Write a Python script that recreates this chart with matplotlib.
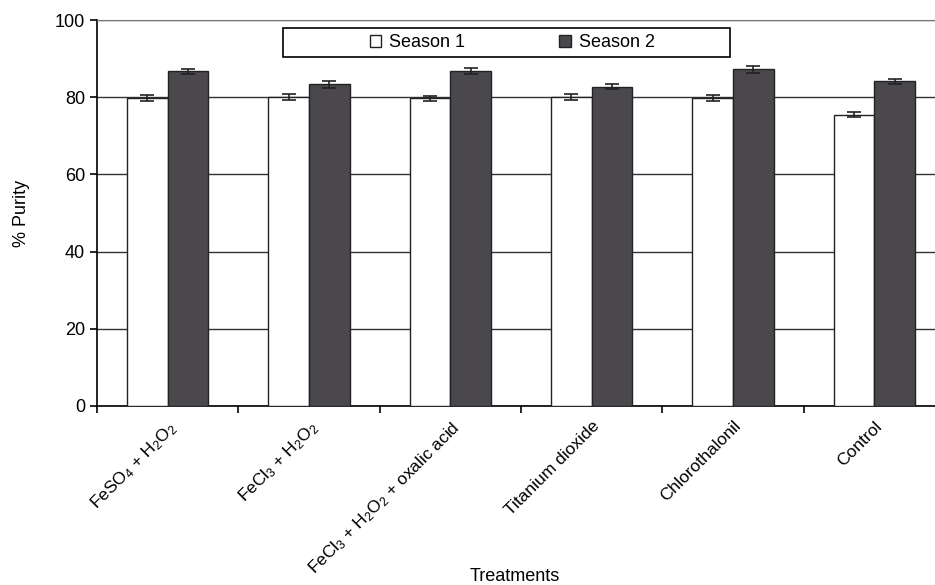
import numpy as np
import matplotlib
matplotlib.use('Agg')
from matplotlib import pyplot as plt
from matplotlib.patches import Rectangle

plt.rcParams['font.family'] = ['Liberation Sans', 'DejaVu Sans']
plt.rcParams['mathtext.fontset'] = 'custom'
plt.rcParams['mathtext.rm'] = 'Liberation Sans'
plt.rcParams['mathtext.it'] = 'Liberation Sans'
plt.rcParams['mathtext.default'] = 'rm'

# data
treatments = [r'FeSO$_4$ + H$_2$O$_2$', r'FeCl$_3$ + H$_2$O$_2$',
              r'FeCl$_3$ + H$_2$O$_2$ + oxalic acid', 'Titanium dioxide',
              'Chlorothalonil', 'Control']
season1 = [79.8, 80.0, 79.7, 80.1, 79.8, 75.5]
season2 = [86.7, 83.4, 86.8, 82.7, 87.2, 84.1]
err1 = [0.8, 0.8, 0.7, 0.7, 0.7, 0.7]
err2 = [0.6, 0.9, 0.7, 0.7, 0.9, 0.6]
yticks = [0, 20, 40, 60, 80, 100]

fig = plt.figure(figsize=(9.35, 5.85), dpi=100)
ax = fig.add_axes([0.1037, 0.306, 0.9070, 0.6598])

x = np.arange(len(treatments))
w = 0.287
dark = '#4b484d'
ax.bar(x - w / 2, season1, w, color='white', edgecolor='#222222', linewidth=1.0,
       label='Season 1', zorder=3)
ax.bar(x + w / 2, season2, w, color=dark, edgecolor='#222222', linewidth=1.0,
       label='Season 2', zorder=3)
ax.errorbar(x - w / 2, season1, yerr=err1, fmt='none', ecolor='#222222',
            elinewidth=1.2, capsize=5, capthick=1.2, zorder=4)
ax.errorbar(x + w / 2, season2, yerr=err2, fmt='none', ecolor='#222222',
            elinewidth=1.2, capsize=5, capthick=1.2, zorder=4)

ax.set_xlim(-0.5, len(treatments) - 0.5)
ax.set_ylim(0, 100)
ax.set_yticks(yticks)
ax.yaxis.grid(True, color='#333333', linewidth=1.0, zorder=0)
ax.set_axisbelow(True)

ax.set_xticks(np.arange(len(treatments) + 1) - 0.5)
ax.set_xticklabels([])
ax.set_xticks(x, minor=True)
ax.set_xticklabels(treatments, minor=True, rotation=45, ha='right', va='top',
                   rotation_mode='anchor', fontsize=12.5)
ax.tick_params(axis='x', which='minor', length=0, pad=9)
ax.tick_params(axis='x', which='major', length=5, width=1.2, direction='out')
ax.tick_params(axis='y', length=5, width=1.2, direction='out', labelsize=13)

ax.spines['right'].set_visible(False)
ax.spines['top'].set_color('#777777')
ax.spines['left'].set_linewidth(1.2)
ax.spines['bottom'].set_linewidth(1.2)

ax.set_ylabel('% Purity', fontsize=13, labelpad=18)
fig.text(0.551, 0.014, 'Treatments', ha='center', va='center', fontsize=13)

# legend box
fig.patches.append(Rectangle((283 / 935, 1 - 57 / 585), 447 / 935, 29 / 585,
                             transform=fig.transFigure, facecolor='white',
                             edgecolor='black', linewidth=1.2, zorder=5))
leg = fig.legend(loc='center', bbox_to_anchor=(0.548, 1 - 42.5 / 585),
                 ncol=2, fontsize=13, frameon=False, handlelength=0.65,
                 handleheight=0.65, handletextpad=0.45, columnspacing=5.2)
leg.set_zorder(6)

fig.savefig('out.png', dpi=100)
